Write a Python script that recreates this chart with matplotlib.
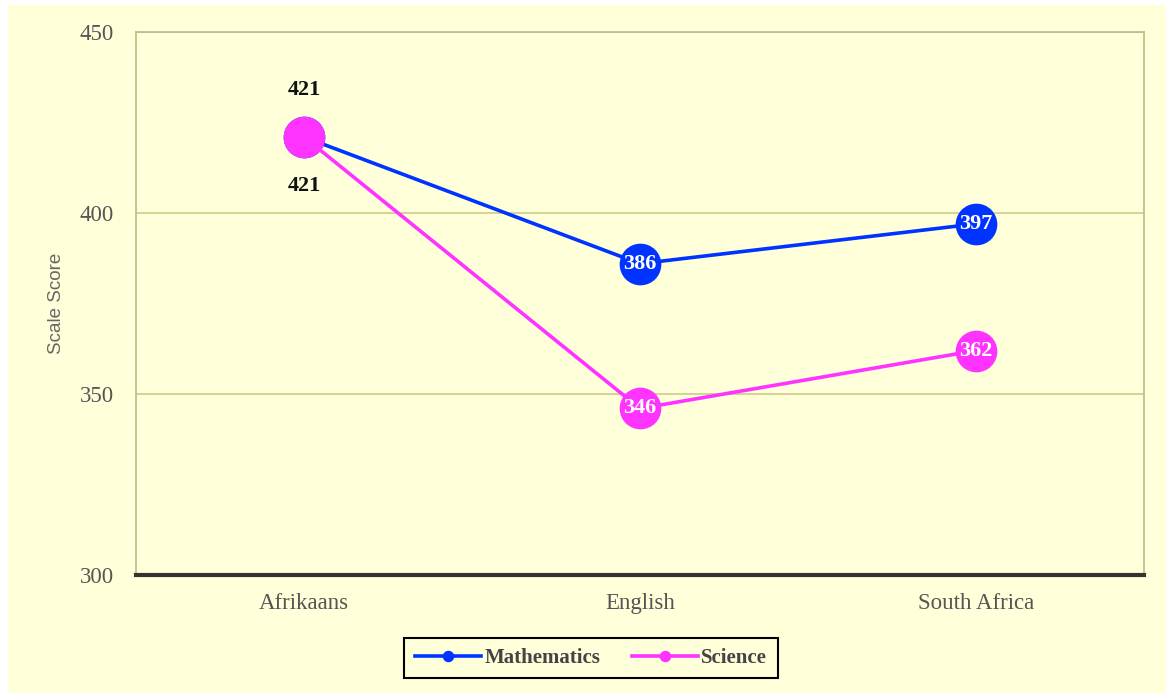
import matplotlib
matplotlib.use("Agg")
import matplotlib.pyplot as plt
from matplotlib.patches import Rectangle

categories = ["Afrikaans", "English", "South Africa"]
math_scores = [421, 386, 397]
science_scores = [421, 346, 362]
y_ticks = [300, 350, 400, 450]

BG = "#FFFFD9"
BLUE = "#0033FF"
MAGENTA = "#FF33FF"
GRID = "#CCCC88"
SERIF = ["Liberation Serif", "DejaVu Serif"]

fig = plt.figure(figsize=(11.66, 6.93), dpi=100, facecolor=BG)
fig.patches.append(Rectangle((0, 1 - 5 / 693), 1, 5 / 693, transform=fig.transFigure,
                             facecolor="white", edgecolor="none", zorder=-1))
fig.patches.append(Rectangle((0, 0), 8 / 1166, 1, transform=fig.transFigure,
                             facecolor="white", edgecolor="none", zorder=-1))

ax = fig.add_axes([136 / 1166, 1 - 575 / 693, (1144 - 136) / 1166, (575 - 32) / 693])
ax.set_facecolor(BG)
x = list(range(len(categories)))

ax.plot(x, math_scores, color=BLUE, lw=2.6, marker="o", ms=29, mec=BLUE, mfc=BLUE,
        zorder=3, label="Mathematics")
ax.plot(x, science_scores, color=MAGENTA, lw=2.6, marker="o", ms=29, mec=MAGENTA,
        mfc=MAGENTA, zorder=4, label="Science")

ax.set_xlim(-0.5, len(categories) - 0.5)
ax.set_ylim(300, 450)
ax.set_yticks(y_ticks)
ax.set_xticks(x)
ax.set_xticklabels(categories)
ax.tick_params(axis="both", length=0, labelsize=16.5, labelcolor="#555555")
ax.tick_params(axis="y", pad=16)
ax.tick_params(axis="x", pad=13)
for lab in ax.get_xticklabels() + ax.get_yticklabels():
    lab.set_family(SERIF)

ax.yaxis.grid(True, color=GRID, lw=1.2)
ax.set_axisbelow(True)
for s in ["left", "top", "right"]:
    ax.spines[s].set_color("#BBBB88")
    ax.spines[s].set_linewidth(1.2)
ax.spines["bottom"].set_color("#333333")
ax.spines["bottom"].set_linewidth(3)

ax.set_ylabel("Scale Score", fontsize=13.5, color="#666666",
              family=["Liberation Sans", "DejaVu Sans"])
ax.yaxis.set_label_coords((65 - 136) / 1008, 0.5)

for i, (m, s) in enumerate(zip(math_scores, science_scores)):
    if m == s:
        ax.annotate(str(m), (i, m), xytext=(0, 34), textcoords="offset points",
                    ha="center", va="center", fontsize=16, fontweight="bold",
                    color="#111111", family=SERIF)
        ax.annotate(str(s), (i, s), xytext=(0, -35), textcoords="offset points",
                    ha="center", va="center", fontsize=16, fontweight="bold",
                    color="#111111", family=SERIF)
    else:
        ax.text(i, m, str(m), ha="center", va="center", fontsize=16, fontweight="bold",
                color="white", family=SERIF, zorder=6)
        ax.text(i, s, str(s), ha="center", va="center", fontsize=16, fontweight="bold",
                color="white", family=SERIF, zorder=6)

leg = fig.legend(handles=ax.get_lines(), loc="center",
                 bbox_to_anchor=(591 / 1166, 1 - 658 / 693), ncol=2, frameon=True,
                 fancybox=False, edgecolor="black", facecolor=BG, framealpha=1,
                 prop={"family": SERIF, "weight": "bold", "size": 15},
                 handlelength=3.2, handletextpad=0.15, columnspacing=1.5,
                 borderpad=0.5, markerscale=0.25)
leg.get_frame().set_linewidth(1.5)
for t in leg.get_texts():
    t.set_color("#444444")

fig.savefig("out.png", dpi=100, facecolor=BG)
